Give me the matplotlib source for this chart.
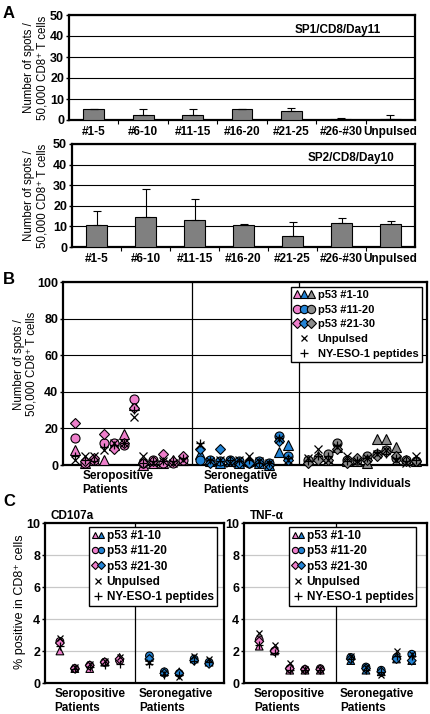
import numpy as np
import matplotlib
matplotlib.use("Agg")
import matplotlib.pyplot as plt
from matplotlib.lines import Line2D
from matplotlib.legend_handler import HandlerTuple
import matplotlib.transforms as mtransforms

plt.rcParams['font.family'] = ['Liberation Sans', 'DejaVu Sans']
plt.rcParams['font.weight'] = 'bold'

PINK = '#ee7fcb'
BLUE = '#2384d6'
GRAY = '#8c8c8c'

# ---- panel A data ----
peptides = ['#1-5', '#6-10', '#11-15', '#16-20', '#21-25', '#26-#30', 'Unpulsed']
sp1_mean = [5.2, 2.2, 2.2, 5.2, 4.2, 0.7, 0.7]
sp1_err = [0, 2.9, 2.9, 0, 1.4, 0.3, 1.7]
sp2_mean = [10.8, 14.8, 13.2, 10.8, 5.2, 11.6, 11.1]
sp2_err = [6.5, 13.4, 10.0, 0.5, 6.9, 2.3, 1.6]

# ---- panel B data (spots per 50,000 CD8+ T cells, one value per donor) ----
seropos_tri = [8, 1, 3, 3, 11, 17, 33, 0, 1, 1, 3, 3]
seropos_circ = [15, 1, 3, 12, 12, 11, 36, 1, 3, 1, 1, 3]
seropos_dia = [23, 2, 4, 17, 9, 12, 31, 1, 2, 6, 2, 5]
seropos_x = [3, 5, 5, 8, 12, 12, 26, 5, 1, 2, 1, 3]
seropos_plus = [5, 3, 2, 10, 11, 12, 30, 1, 2, 2, 2, 4]

seroneg_tri = [6, 2, 1, 2, 1, 2, 1, 0, 7, 11]
seroneg_circ = [3, 3, 2, 3, 2, 1, 2, 1, 16, 5]
seroneg_dia = [9, 1, 9, 2, 1, 1, 1, 0, 13, 3]
seroneg_x = [11, 2, 3, 1, 3, 5, 2, 1, 14, 3]
seroneg_plus = [12, 3, 2, 3, 2, 3, 1, 1, 15, 4]

healthy_tri = [3, 5, 3, 10, 2, 2, 1, 14, 14, 10, 3, 2]
healthy_circ = [3, 4, 6, 12, 3, 3, 5, 6, 8, 4, 3, 2]
healthy_dia = [1, 3, 3, 9, 1, 4, 3, 5, 7, 5, 2, 2]
healthy_x = [4, 9, 3, 10, 5, 2, 4, 6, 8, 3, 1, 5]
healthy_plus = [2, 5, 5, 11, 2, 3, 4, 7, 6, 4, 2, 3]

# ---- panel C data (first 5 seropositive, last 5 seronegative) ----
cd107a_tri = [2.0, 0.9, 0.9, 1.3, 1.6, 1.6, 0.7, 0.7, 1.5, 1.3]
cd107a_circ = [2.6, 0.9, 1.1, 1.3, 1.4, 1.7, 0.7, 0.6, 1.5, 1.3]
cd107a_dia = [2.5, 0.9, 1.1, 1.3, 1.5, 1.5, 0.6, 0.6, 1.4, 1.2]
cd107a_x = [2.8, 1.0, 1.2, 1.4, 1.6, 1.3, 0.6, 0.35, 1.7, 1.5]
cd107a_plus = [2.3, 0.85, 1.0, 1.1, 1.2, 1.2, 0.5, 0.5, 1.4, 1.3]

tnf_tri = [2.3, 2.0, 0.8, 0.8, 0.8, 1.4, 0.8, 0.7, 1.5, 1.4]
tnf_circ = [2.7, 2.0, 0.9, 0.85, 0.9, 1.6, 1.0, 0.8, 1.6, 1.8]
tnf_dia = [2.6, 2.0, 0.9, 0.85, 0.85, 1.5, 0.9, 0.7, 1.5, 1.4]
tnf_x = [3.1, 2.35, 1.25, 0.9, 0.9, 1.7, 1.0, 0.5, 2.0, 1.8]
tnf_plus = [2.4, 1.9, 0.8, 0.8, 0.8, 1.5, 0.8, 0.7, 1.7, 1.7]

W, H = 430, 714
fig = plt.figure(figsize=(W / 100, H / 100), dpi=100)


def box(l, r, t, b):
    return [l / W, 1 - b / H, (r - l) / W, (b - t) / H]


def style_frame(ax):
    for s in ax.spines.values():
        s.set_linewidth(1.6)
    ax.tick_params(axis='y', labelsize=9, length=2, width=1, pad=1.5)


YLAB = 'Number of spots /\n50,000 CD8\u207a T cells'


def bar_panel(ax, means, errs, tag, tagx, labx):
    x = np.arange(len(peptides))
    ax.bar(x, means, width=0.42, color='#808080', edgecolor='black', lw=0.8, zorder=3)
    ax.errorbar(x, means, yerr=[np.zeros(len(errs)), errs], fmt='none',
                ecolor='black', elinewidth=0.8, capsize=3, capthick=0.8, zorder=4)
    ax.set_ylim(0, 50)
    ax.set_yticks([0, 10, 20, 30, 40, 50])
    ax.set_xlim(-0.5, len(peptides) - 0.5)
    ax.set_xticks(x)
    ax.set_xticklabels(peptides, fontsize=8.5)
    ax.set_xticks(np.arange(0.5, len(peptides) - 1, 1), minor=True)
    ax.tick_params(axis='x', which='major', length=0, pad=4)
    ax.tick_params(axis='x', which='minor', length=3, width=0.8, direction='out')
    ax.yaxis.grid(True, color='black', lw=0.8)
    ax.set_axisbelow(True)
    style_frame(ax)
    ax.set_ylabel(YLAB, fontsize=8.3, linespacing=1.1)
    ax.yaxis.set_label_coords(labx, 0.5)
    ax.text(tagx, 0.86, tag, transform=ax.transAxes, ha='right', va='center', fontsize=8.5)


axA1 = fig.add_axes(box(69, 415, 15, 120))
bar_panel(axA1, sp1_mean, sp1_err, 'SP1/CD8/Day11', 0.9, -0.06)
axA2 = fig.add_axes(box(72, 415, 144, 247))
bar_panel(axA2, sp2_mean, sp2_err, 'SP2/CD8/Day10', 0.94, -0.069)

# ---- panel B ----
axB = fig.add_axes(box(63, 427, 282, 465))
groups = [
    (1.2 + np.arange(12), PINK, seropos_tri, seropos_circ, seropos_dia, seropos_x, seropos_plus),
    (14.0 + np.arange(10), BLUE, seroneg_tri, seroneg_circ, seroneg_dia, seroneg_x, seroneg_plus),
    (25.0 + np.arange(12), GRAY, healthy_tri, healthy_circ, healthy_dia, healthy_x, healthy_plus),
]
for xs, col, tri, circ, dia, xx, pl in groups:
    for vals, m in [(tri, '^'), (circ, 'o'), (dia, 'D')]:
        axB.plot(xs, vals, ls='none', marker=m, ms=6.5 if m != 'D' else 5.5,
                 mfc=col, mec='black', mew=0.8, zorder=3, clip_on=False)
    axB.plot(xs, xx, ls='none', marker='x', ms=6, mec='black', mew=0.9, zorder=4, clip_on=False)
    axB.plot(xs, pl, ls='none', marker='+', ms=6, mec='black', mew=0.9, zorder=4, clip_on=False)
axB.set_xlim(0, 37.14)
axB.set_ylim(0, 100)
axB.set_yticks([0, 20, 40, 60, 80, 100])
axB.set_xticks([])
axB.yaxis.grid(True, color='black', lw=0.8)
axB.set_axisbelow(True)
for sep in [13.2, 24.1]:
    axB.axvline(sep, color='black', lw=0.9, zorder=1)
style_frame(axB)
axB.set_ylabel(YLAB, fontsize=8.3, linespacing=1.1)
axB.yaxis.set_label_coords(-0.07, 0.55)
tB = mtransforms.blended_transform_factory(axB.transData, axB.transAxes)
axB.text(2.0, -0.03, 'Seropositive\nPatients', transform=tB, ha='left', va='top', fontsize=8.5, linespacing=1.2)
axB.text(14.3, -0.03, 'Seronegative\nPatients', transform=tB, ha='left', va='top', fontsize=8.5, linespacing=1.2)
axB.text(30.0, -0.105, 'Healthy Individuals', transform=tB, ha='center', va='center', fontsize=8.5)


def mk(m, c, ms=6):
    return Line2D([], [], ls='none', marker=m, mfc=c, mec='black', mew=0.8, ms=ms)


hB = [(mk('^', PINK), mk('^', BLUE), mk('^', GRAY)),
      (mk('o', PINK), mk('o', BLUE), mk('o', GRAY)),
      (mk('D', PINK, 5), mk('D', BLUE, 5), mk('D', GRAY, 5)),
      Line2D([], [], ls='none', marker='x', color='black', ms=5, mew=0.9),
      Line2D([], [], ls='none', marker='+', color='black', ms=6, mew=0.9)]
labs = ['p53 #1-10', 'p53 #11-20', 'p53 #21-30', 'Unpulsed', 'NY-ESO-1 peptides']
axB.legend(hB, labs, handler_map={tuple: HandlerTuple(ndivide=None, pad=0)},
           loc='upper left', bbox_to_anchor=(0.625, 0.975), fontsize=8, frameon=True,
           fancybox=False, edgecolor='black', framealpha=1, borderpad=0.3,
           labelspacing=0.42, handlelength=1.8, handletextpad=0.35, borderaxespad=0)


# ---- panel C ----
def c_panel(ax, tri, circ, dia, xx, pl, title, show_ylabel):
    xs = np.array([1, 2, 3, 4, 5, 7, 8, 9, 10, 11])
    cols = [PINK] * 5 + [BLUE] * 5
    for vals, m, ms in [(tri, '^', 5.5), (circ, 'o', 5.5), (dia, 'D', 4.5)]:
        ax.scatter(xs, vals, marker=m, s=ms ** 2, c=cols, edgecolors='black', linewidths=0.8, zorder=3)
    ax.plot(xs, xx, ls='none', marker='x', ms=5, mec='black', mew=0.9, zorder=4)
    ax.plot(xs, pl, ls='none', marker='+', ms=5.5, mec='black', mew=0.9, zorder=4)
    ax.set_xlim(0, 12)
    ax.set_ylim(0, 10)
    ax.set_yticks([0, 2, 4, 6, 8, 10])
    ax.set_xticks([])
    ax.yaxis.grid(True, color='#c8c8c8', lw=0.9)
    ax.set_axisbelow(True)
    ax.axvline(6, color='black', lw=0.9, zorder=1)
    style_frame(ax)
    if show_ylabel:
        ax.set_ylabel('% positive in CD8\u207a cells', fontsize=9)
        ax.yaxis.set_label_coords(-0.105, 0.51)
    ax.text(0.03, 1.005, title, transform=ax.transAxes, ha='left', va='bottom', fontsize=8.5)
    t = mtransforms.blended_transform_factory(ax.transData, ax.transAxes)
    ax.text(0.65, -0.03, 'Seropositive\nPatients', transform=t, ha='left', va='top', fontsize=8.5, linespacing=1.2)
    ax.text(6.3, -0.03, 'Seronegative\nPatients', transform=t, ha='left', va='top', fontsize=8.5, linespacing=1.2)
    hC = [(mk('^', PINK, 4.5), mk('^', BLUE, 4.5)),
          (mk('o', PINK, 4.5), mk('o', BLUE, 4.5)),
          (mk('D', PINK, 3.8), mk('D', BLUE, 3.8)),
          Line2D([], [], ls='none', marker='x', color='black', ms=4.5, mew=0.9),
          Line2D([], [], ls='none', marker='+', color='black', ms=5.5, mew=0.9)]
    ax.legend(hC, labs, handler_map={tuple: HandlerTuple(ndivide=None, pad=0)},
              loc='upper left', bbox_to_anchor=(0.245, 0.975), fontsize=8.5, frameon=True,
              fancybox=False, edgecolor='black', framealpha=1, borderpad=0.25,
              labelspacing=0.28, handlelength=1.0, handletextpad=0.25, borderaxespad=0)


axC1 = fig.add_axes(box(45, 224, 523, 683))
c_panel(axC1, cd107a_tri, cd107a_circ, cd107a_dia, cd107a_x, cd107a_plus, 'CD107a', True)
axC2 = fig.add_axes(box(244, 427, 523, 683))
c_panel(axC2, tnf_tri, tnf_circ, tnf_dia, tnf_x, tnf_plus, 'TNF-\u03b1', False)

fig.text(3 / W, 1 - 6 / H, 'A', fontsize=12, va='top', ha='left')
fig.text(3 / W, 1 - 272 / H, 'B', fontsize=12, va='top', ha='left')
fig.text(3 / W, 1 - 494 / H, 'C', fontsize=12, va='top', ha='left')

fig.savefig('out.png', dpi=100)
